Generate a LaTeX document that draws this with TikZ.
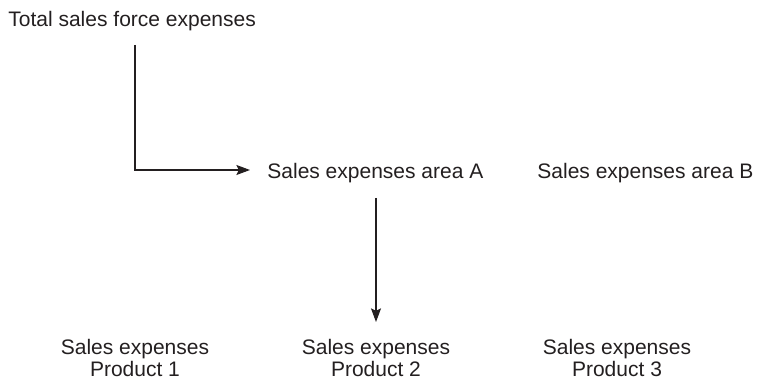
\documentclass[tikz,border=0pt]{standalone}
\usepackage{fontspec}
\setmainfont{Liberation Sans}
\usetikzlibrary{arrows.meta}
\definecolor{ink}{HTML}{231F20}
\tikzset{
  lbl/.style={inner sep=0pt, text=ink, font=\fontsize{10.5}{9.5}\selectfont},
  conn/.style={draw=ink, line width=0.55pt, -{Stealth[length=6.8pt,width=5pt,inset=1.2pt]}}
}
\begin{document}
\begin{tikzpicture}[x=0.5pt, y=-0.5pt]
\useasboundingbox (0,0) rectangle (780,378);
\node[lbl, anchor=base west] (t) at (8,27) {Total sales force expenses};
\node[lbl, anchor=base west] (a) at (267,179) {Sales expenses area A};
\node[lbl, anchor=base west] (b) at (537,179) {Sales expenses area B};
\node[lbl, anchor=north, align=center] (p1) at (135,339) {Sales expenses\\Product 1};
\node[lbl, anchor=north, align=center] (p2) at (376,339) {Sales expenses\\Product 2};
\node[lbl, anchor=north, align=center] (p3) at (617,339) {Sales expenses\\Product 3};
\coordinate (c1) at (135,45);
\draw[conn, shorten >=8.5pt] (c1) |- ([yshift=4.5pt]a.base west);
\draw[conn, shorten <=7pt, shorten >=8.5pt] (a.south -| p2.north) -- (p2.north);
\end{tikzpicture}
\end{document}
